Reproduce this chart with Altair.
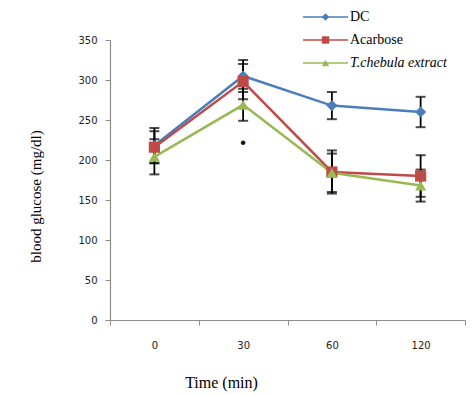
import altair as alt
import pandas as pd

times = ["0", "30", "60", "120"]
series = ["DC", "Acarbose", "T.chebula extract"]
dc_mean = [218, 305, 268, 260]
dc_err = [22, 20, 17, 19]
acarbose_mean = [216, 298, 185, 180]
acarbose_err = [20, 22, 27, 26]
tchebula_mean = [204, 269, 184, 168]
tchebula_err = [22, 20, 24, 20]
colors = ["#4A7EBB", "#BE4B48", "#98B954"]
shapes = ["diamond", "square", "triangle-up"]
mark_time = ["30"]
mark_value = [221]
mark_text = ["•"]

rows = []
for s, means, errs in zip(series, [dc_mean, acarbose_mean, tchebula_mean],
                          [dc_err, acarbose_err, tchebula_err]):
    for t, m, e in zip(times, means, errs):
        rows.append({"series": s, "time": t, "mean": m, "lo": m - e, "hi": m + e})
df = pd.DataFrame(rows)
ann = pd.DataFrame({"time": mark_time, "value": mark_value, "text": mark_text})
leg = pd.DataFrame({"series": series})

x_enc = alt.X(
    "time:N", sort=times,
    scale=alt.Scale(type="band", paddingInner=0, paddingOuter=0, domain=times),
    axis=alt.Axis(title="Time (min)", labelAngle=0, tickBand="extent",
                  titleX=111, titleY=62, titleBaseline="middle",
                  titleFont="Liberation Serif", titleFontSize=16,
                  titleFontWeight="normal", labelPadding=15),
)
y_scale = alt.Scale(domain=[0, 350], nice=False, zero=True)
y_axis = alt.Axis(title="blood glucose  (mg/dl)", values=list(range(0, 351, 50)),
                  titleX=-75, titleY=156, titleBaseline="middle",
                  titleFont="Liberation Serif", titleFontSize=15,
                  titleFontWeight="normal", labelPadding=8, grid=False,
                  labelOverlap=False)


def y_of(field):
    return alt.Y(f"{field}:Q", scale=y_scale, axis=y_axis)


color_enc = alt.Color("series:N", scale=alt.Scale(domain=series, range=colors),
                      legend=None)
shape_enc = alt.Shape("series:N", scale=alt.Scale(domain=series, range=shapes),
                      legend=None)

base = alt.Chart(df)

lines = base.mark_line(strokeWidth=2.5).encode(
    x=x_enc, y=y_of("mean"), color=color_enc, detail="series:N",
)
err_rule = base.mark_rule(color="black", strokeWidth=1.8).encode(
    x=x_enc, y=y_of("lo"), y2="hi:Q")
cap_lo = base.mark_tick(color="black", size=10, thickness=2).encode(x=x_enc, y=y_of("lo"))
cap_hi = base.mark_tick(color="black", size=10, thickness=2).encode(x=x_enc, y=y_of("hi"))

points = base.mark_point(filled=True, opacity=1, size=125).encode(
    x=x_enc, y=y_of("mean"), color=color_enc, shape=shape_enc)

star = alt.Chart(ann).mark_text(fontSize=16, color="black").encode(
    x=x_enc, y=y_of("value"), text="text:N")

main = alt.layer(lines, err_rule, cap_lo, cap_hi, points, star)

# legend rows placed on their own point scale above the top-right of the plot
leg_y = alt.Y("series:N", sort=series, axis=None,
              scale=alt.Scale(type="point", domain=series, range=[-23, 23], padding=0))
leg_base = alt.Chart(leg)
leg_line = leg_base.mark_rule(strokeWidth=1.5).encode(
    x=alt.value(193), x2=alt.value(238), y=leg_y, color=color_enc)
leg_point = leg_base.mark_point(filled=True, opacity=1, size=55).encode(
    x=alt.value(215.5), y=leg_y, color=color_enc, shape=shape_enc)
leg_text = leg_base.transform_filter(alt.datum.series != "T.chebula extract").mark_text(
    align="left", baseline="middle", font="Liberation Serif", fontSize=14,
    color="black").encode(x=alt.value(240), y=leg_y, text="series:N")
leg_text_it = leg_base.transform_filter(alt.datum.series == "T.chebula extract").mark_text(
    align="left", baseline="middle", font="Liberation Serif", fontSize=14,
    fontStyle="italic", color="black").encode(x=alt.value(240), y=leg_y, text="series:N")
legend = alt.layer(leg_line, leg_point, leg_text, leg_text_it)

chart = alt.layer(main, legend).resolve_scale(y="independent").properties(
    width=355, height=280,
    autosize=alt.AutoSizeParams(type="none"),
    padding={"left": 102, "top": 32, "right": 2, "bottom": 72},
).configure_view(stroke=None).configure_axis(
    domainColor="#8c8c8c", tickColor="#8c8c8c", tickSize=5, domainWidth=1.2,
    labelFont="DejaVu Sans", labelFontSize=10, labelColor="#222",
    titleColor="black",
)

chart.save("out.html", embed_options={"renderer": "svg", "actions": False})
